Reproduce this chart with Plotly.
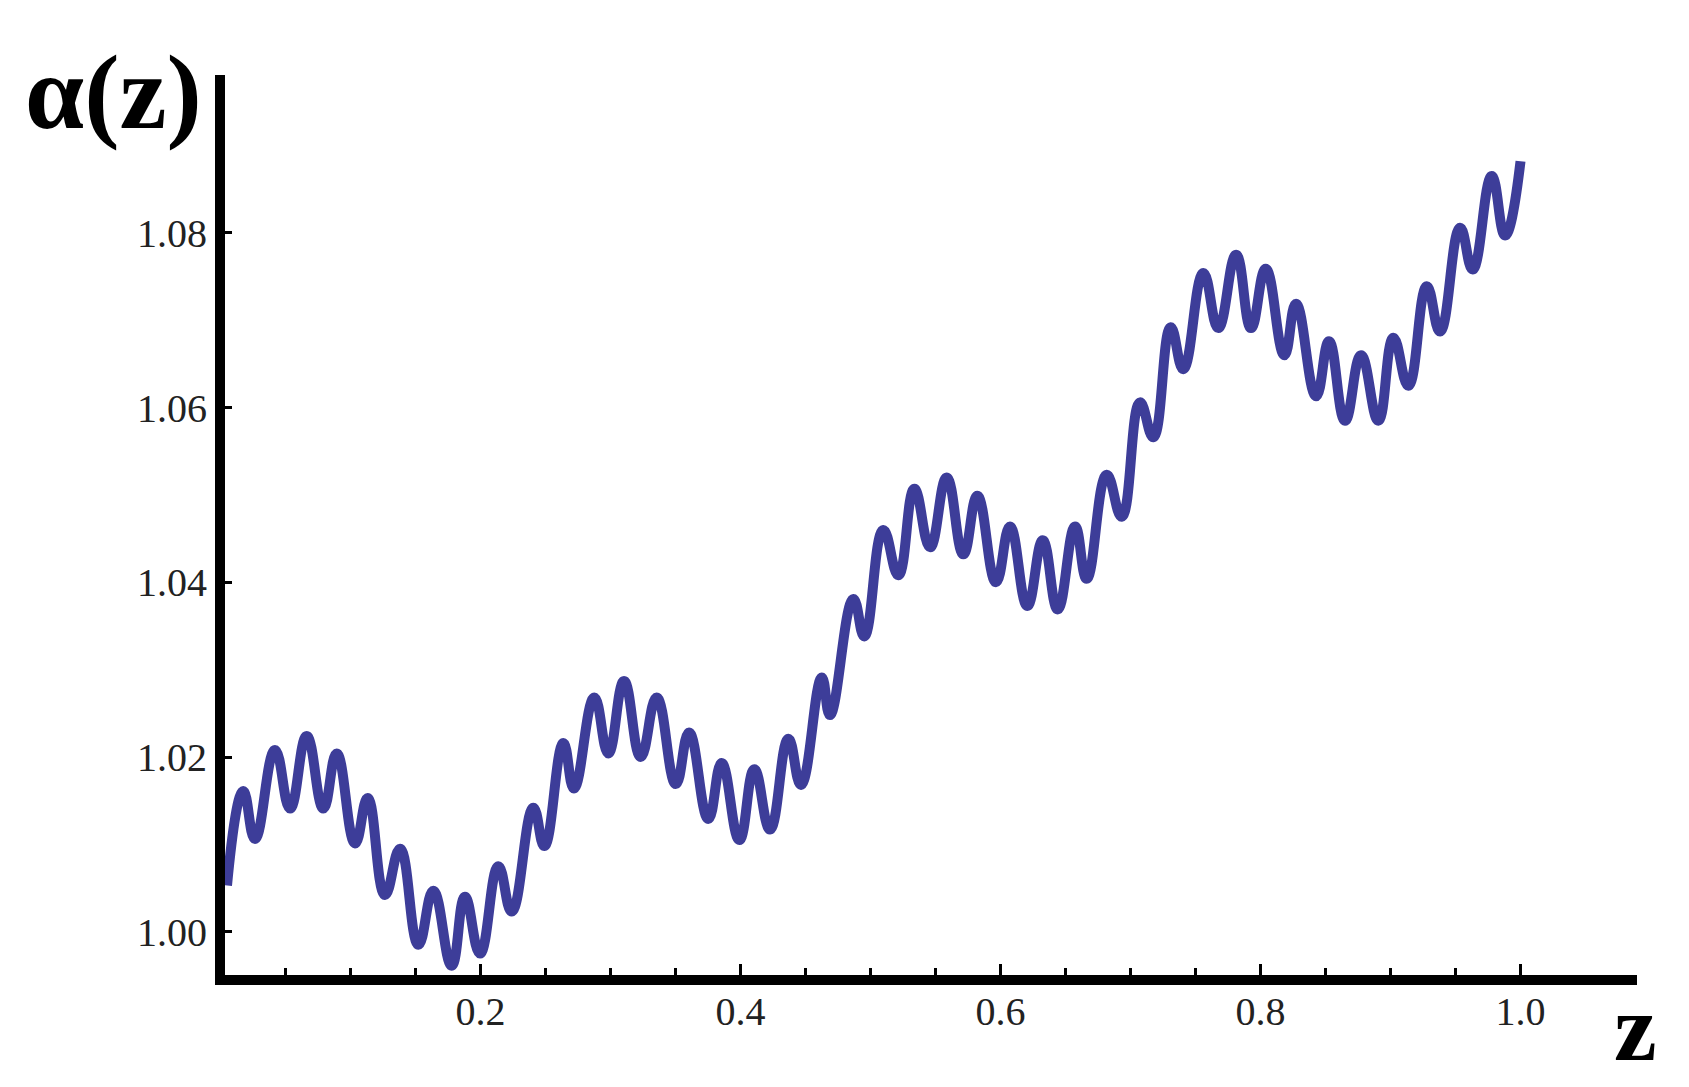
import plotly.graph_objects as go

# values (peaks and troughs of the curve)
z_vals = [0.005, 0.0175, 0.0265, 0.0419, 0.0535, 0.0663, 0.0791, 0.0894, 0.1035, 0.1132,
          0.1265, 0.1381, 0.1522, 0.1637, 0.1778, 0.1880, 0.1996, 0.2137, 0.2240, 0.2406,
          0.2491, 0.2637, 0.2719, 0.2875, 0.2983, 0.3104, 0.3232, 0.3355, 0.3502, 0.3604,
          0.3752, 0.3855, 0.3991, 0.4106, 0.4227, 0.4368, 0.4465, 0.4625, 0.4688, 0.4868,
          0.4952, 0.5098, 0.5214, 0.5337, 0.5458, 0.5586, 0.5714, 0.5822, 0.5965, 0.6073,
          0.6206, 0.6325, 0.6440, 0.6573, 0.6663, 0.6817, 0.6932, 0.7073, 0.7175, 0.7309,
          0.7406, 0.7560, 0.7675, 0.7812, 0.7927, 0.8040, 0.8183, 0.8273, 0.8427, 0.8527,
          0.8650, 0.8773, 0.8906, 0.9022, 0.9137, 0.9279, 0.9381, 0.9535, 0.9632, 0.9778,
          0.9881, 1.0000]
alpha_vals = [1.0053, 1.0161, 1.0106, 1.0208, 1.0141, 1.0224, 1.0141, 1.0204, 1.0101, 1.0153,
              1.0042, 1.0095, 0.9985, 1.0047, 0.9961, 1.0040, 0.9975, 1.0075, 1.0023, 1.0142,
              1.0098, 1.0216, 1.0164, 1.0268, 1.0204, 1.0287, 1.0200, 1.0268, 1.0169, 1.0228,
              1.0129, 1.0193, 1.0105, 1.0186, 1.0117, 1.0221, 1.0168, 1.0291, 1.0248, 1.0381,
              1.0338, 1.0460, 1.0408, 1.0507, 1.0440, 1.0520, 1.0432, 1.0499, 1.0400, 1.0464,
              1.0373, 1.0448, 1.0369, 1.0464, 1.0404, 1.0523, 1.0475, 1.0606, 1.0566, 1.0692,
              1.0644, 1.0754, 1.0691, 1.0775, 1.0691, 1.0759, 1.0660, 1.0719, 1.0613, 1.0676,
              1.0585, 1.0660, 1.0585, 1.0680, 1.0625, 1.0739, 1.0687, 1.0806, 1.0758, 1.0865,
              1.0797, 1.0882]

x_ticks = [0.2, 0.4, 0.6, 0.8, 1.0]
x_labels = ['0.2', '0.4', '0.6', '0.8', '1.0']
x_minor = [0.05, 0.1, 0.15, 0.25, 0.3, 0.35, 0.45, 0.5, 0.55, 0.65, 0.7, 0.75, 0.85, 0.9, 0.95]
y_ticks = [1.00, 1.02, 1.04, 1.06, 1.08]
y_labels = ['1.00', '1.02', '1.04', '1.06', '1.08']

serif = 'Liberation Serif'

fig = go.Figure()
fig.add_trace(go.Scatter(
    x=z_vals,
    y=alpha_vals,
    mode='lines',
    line=dict(color='#3d3d99', width=10, shape='spline', smoothing=1.3),
    showlegend=False
))

fig.update_layout(
    width=1689,
    height=1087,
    margin=dict(l=225, r=52, t=75, b=112),
    plot_bgcolor='white',
    paper_bgcolor='white',
    font=dict(family=serif, size=40, color='#222'),
    xaxis=dict(
        range=[0.00346, 1.0896],
        showgrid=False, zeroline=False,
        showline=True, linewidth=10, linecolor='black',
        tickmode='array', tickvals=x_ticks, ticktext=x_labels,
        ticks='inside', ticklen=11, tickwidth=3, tickcolor='black',
        ticklabelstandoff=-8,
        minor=dict(tickmode='array', tickvals=x_minor,
                   ticks='inside', ticklen=7, tickwidth=3, tickcolor='black'),
        tickfont=dict(family=serif, size=40, color='#222'),
    ),
    yaxis=dict(
        range=[0.995043, 1.098077],
        showgrid=False, zeroline=False,
        showline=True, linewidth=10, linecolor='black',
        tickmode='array', tickvals=y_ticks, ticktext=y_labels,
        ticks='inside', ticklen=7, tickwidth=3, tickcolor='black',
        minor=dict(tickmode='array', tickvals=[0.99506],
                   ticks='outside', ticklen=23, tickwidth=3, tickcolor='black'),
        tickfont=dict(family=serif, size=40, color='#222'),
    ),
    annotations=[
        dict(text='α(z)', xref='paper', yref='paper', x=-0.0793, y=0.9806,
             xanchor='center', yanchor='middle', showarrow=False,
             font=dict(family=serif, size=106, color='black', weight='bold')),
        dict(text='z', xref='paper', yref='paper', x=0.9986, y=-0.0578,
             xanchor='center', yanchor='middle', showarrow=False,
             font=dict(family=serif, size=96, color='black', weight='bold')),
    ]
)

fig.write_html('out.html', config={'displayModeBar': False},
               post_script="document.body.style.margin='0';")
